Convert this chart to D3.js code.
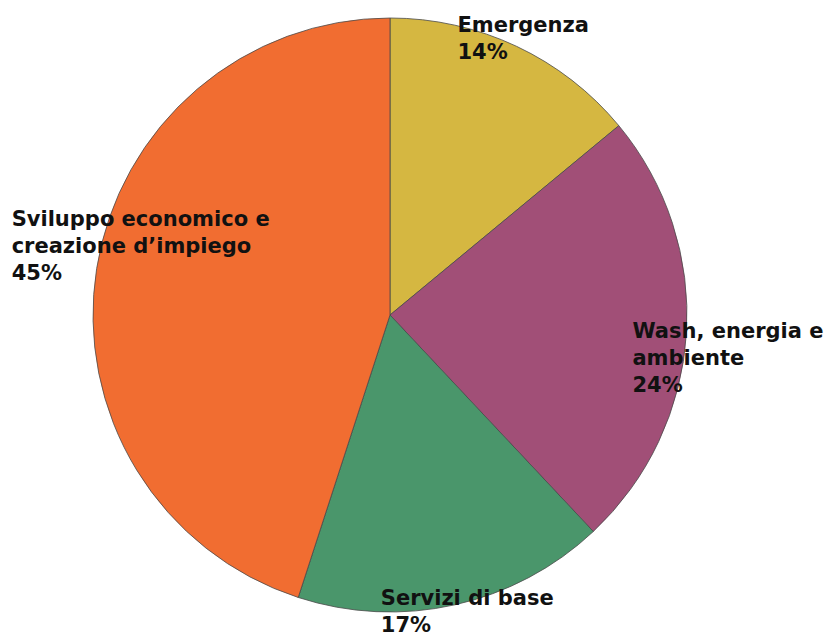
<!DOCTYPE html>
<html>
<head>
<meta charset="utf-8">
<script src="https://cdn.jsdelivr.net/npm/d3@7"></script>
<style>
  html, body { margin: 0; padding: 0; background: #fff; }
  svg { display: block; }
</style>
</head>
<body>
<svg id="chart" width="834" height="633"></svg>
<script>
// === Données ===
const categories = ["Emergenza", "Wash, energia e ambiente", "Servizi di base", "Sviluppo economico e creazione d’impiego"];
const labelLines = [["Emergenza"], ["Wash, energia e", "ambiente"], ["Servizi di base"], ["Sviluppo economico e", "creazione d’impiego"]];
const values = [14, 24, 17, 45];
const colors = ["#d5b741", "#a14f77", "#4a966b", "#f16d31"];

const width = 834, height = 633;
const cx = 390, cy = 315, radius = 297;

const svg = d3.select('#chart');
const g = svg.append('g').attr('transform', `translate(${cx},${cy})`);

const pie = d3.pie().value(d => d).sort(null);
const arc = d3.arc().innerRadius(0).outerRadius(radius);
const arcs = pie(values);

g.selectAll('path')
  .data(arcs)
  .enter().append('path')
  .attr('d', arc)
  .attr('fill', (d, i) => colors[i])
  .attr('stroke', '#4a4a4a')
  .attr('stroke-width', 0.8);

// décalages des étiquettes par rapport au bord du camembert
const labelShift = [[-59, -14], [-54, 4], [-74, 0], [-85, -43]];
const edge = d3.arc().innerRadius(radius).outerRadius(radius);

const labels = g.selectAll('text.lbl')
  .data(arcs)
  .enter().append('text')
  .attr('class', 'lbl')
  .attr('transform', (d, i) => {
    const [x, y] = edge.centroid(d);
    return `translate(${x + labelShift[i][0]},${y + labelShift[i][1]})`;
  })
  .style('font-family', '"DejaVu Sans", sans-serif')
  .style('font-weight', 'bold')
  .style('font-size', '21px')
  .attr('fill', '#111');

labels.each(function (d, i) {
  const t = d3.select(this);
  const lines = labelLines[i].concat([`${values[i]}%`]);
  lines.forEach((s, k) => {
    t.append('tspan').attr('x', 0).attr('y', k * 27).text(s);
  });
});
</script>
</body>
</html>
